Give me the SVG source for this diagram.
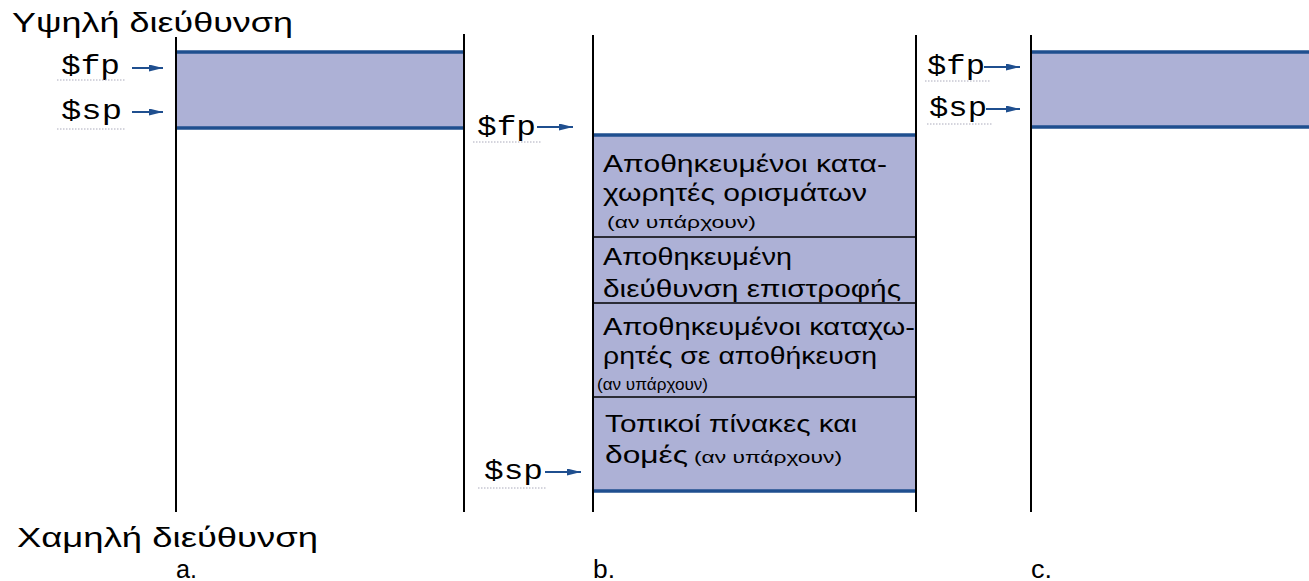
<svg xmlns="http://www.w3.org/2000/svg" width="1309" height="581" viewBox="0 0 1309 581">
<style>
.t{font-family:"Liberation Sans",Arial,sans-serif;fill:#000}
.m{font-family:"Liberation Mono","Courier New",monospace;font-size:27px;fill:#000}
.v{stroke:#000;stroke-width:2}
.blk{fill:#adb1d6}
.edge{stroke:#1f4f8f;stroke-width:3.5}
.sep{stroke:#000;stroke-width:1.5}
.arr{stroke:#1f4f8f;stroke-width:2;marker-end:url(#ah)}
.dot{stroke:#aab;stroke-width:1;stroke-dasharray:1.5 1.5}
.box{font-family:"Liberation Sans",Arial,sans-serif;font-size:24px;fill:#000}
.sm{font-size:17px}
</style>
<defs>
<marker id="ah" viewBox="0 0 12 6" refX="12" refY="3" markerWidth="7" markerHeight="3.5" orient="auto" markerUnits="strokeWidth">
<path d="M0,0 L12,3 L0,6 Z" fill="#1f4f8f"/>
</marker>
</defs>
<rect width="1309" height="581" fill="#fff"/>
<text class="t" x="12" y="32" font-size="28" textLength="281" lengthAdjust="spacingAndGlyphs">Υψηλή διεύθυνση</text>
<text class="t" x="17" y="547" font-size="27" textLength="301" lengthAdjust="spacingAndGlyphs">Χαμηλή διεύθυνση</text>
<text class="t" x="176" y="578" font-size="25" textLength="21" lengthAdjust="spacingAndGlyphs">a.</text>
<text class="t" x="593" y="578" font-size="25" textLength="22" lengthAdjust="spacingAndGlyphs">b.</text>
<text class="t" x="1031" y="578" font-size="25" textLength="21" lengthAdjust="spacingAndGlyphs">c.</text>

<g id="frame-a">
<rect class="blk" x="176" y="52" width="288" height="76"/>
<line class="edge" x1="176" y1="52" x2="464" y2="52"/>
<line class="edge" x1="176" y1="128" x2="464" y2="128"/>
<line class="v" x1="176" y1="37" x2="176" y2="512"/>
<line class="v" x1="464" y1="34" x2="464" y2="512"/>
</g>

<g id="frame-b">
<rect class="blk" x="593" y="135" width="323" height="356"/>
<line class="sep" x1="593" y1="237" x2="916" y2="237"/>
<line class="sep" x1="593" y1="303" x2="916" y2="303"/>
<line class="sep" x1="593" y1="397" x2="916" y2="397"/>
<line class="edge" x1="593" y1="135" x2="916" y2="135"/>
<line class="edge" x1="593" y1="491" x2="916" y2="491"/>
<line class="v" x1="593" y1="35" x2="593" y2="512"/>
<line class="v" x1="916" y1="35" x2="916" y2="512"/>
<text class="box" x="603" y="172" textLength="284" lengthAdjust="spacingAndGlyphs">Αποθηκευμένοι κατα-</text>
<text class="box" x="603" y="201" textLength="264" lengthAdjust="spacingAndGlyphs">χωρητές ορισμάτων</text>
<text class="box sm" x="607" y="228" textLength="149" lengthAdjust="spacingAndGlyphs">(αν υπάρχουν)</text>
<text class="box" x="603" y="265" textLength="189" lengthAdjust="spacingAndGlyphs">Αποθηκευμένη</text>
<text class="box" x="603" y="297" textLength="298" lengthAdjust="spacingAndGlyphs">διεύθυνση επιστροφής</text>
<text class="box" x="603" y="335" textLength="312" lengthAdjust="spacingAndGlyphs">Αποθηκευμένοι καταχω-</text>
<text class="box" x="603" y="364" textLength="274" lengthAdjust="spacingAndGlyphs">ρητές σε αποθήκευση</text>
<text class="box sm" x="597" y="390" textLength="111" lengthAdjust="spacingAndGlyphs">(αν υπάρχουν)</text>
<text class="box" x="605" y="432" textLength="252" lengthAdjust="spacingAndGlyphs">Τοπικοί πίνακες και</text>
<text class="box" x="605" y="463" textLength="83" lengthAdjust="spacingAndGlyphs">δομές</text>
<text class="box sm" x="694" y="463" textLength="148" lengthAdjust="spacingAndGlyphs">(αν υπάρχουν)</text>
</g>

<g id="frame-c">
<rect class="blk" x="1031" y="52" width="278" height="75"/>
<line class="edge" x1="1031" y1="52" x2="1309" y2="52"/>
<line class="edge" x1="1031" y1="127" x2="1309" y2="127"/>
<line class="v" x1="1031" y1="35" x2="1031" y2="512"/>
</g>

<g id="pointers">
<text class="m" x="61" y="74" textLength="59" lengthAdjust="spacingAndGlyphs">$fp</text>
<line class="dot" x1="57" y1="80" x2="125" y2="80"/>
<line class="arr" x1="132" y1="68" x2="163" y2="68"/>
<text class="m" x="61" y="119" textLength="61" lengthAdjust="spacingAndGlyphs">$sp</text>
<line class="dot" x1="57" y1="129" x2="125" y2="129"/>
<line class="arr" x1="132" y1="112" x2="163" y2="112"/>

<text class="m" x="477" y="135" textLength="59" lengthAdjust="spacingAndGlyphs">$fp</text>
<line class="dot" x1="473" y1="142" x2="542" y2="142"/>
<line class="arr" x1="537" y1="127" x2="573" y2="127"/>
<text class="m" x="484" y="479" textLength="59" lengthAdjust="spacingAndGlyphs">$sp</text>
<line class="dot" x1="478" y1="488" x2="547" y2="488"/>
<line class="arr" x1="545" y1="472" x2="581" y2="472"/>

<text class="m" x="927" y="74" textLength="58" lengthAdjust="spacingAndGlyphs">$fp</text>
<line class="dot" x1="925" y1="81" x2="991" y2="81"/>
<line class="arr" x1="984" y1="67" x2="1020" y2="67"/>
<text class="m" x="929" y="116" textLength="58" lengthAdjust="spacingAndGlyphs">$sp</text>
<line class="dot" x1="927" y1="124" x2="993" y2="124"/>
<line class="arr" x1="986" y1="109" x2="1020" y2="109"/>
</g>
</svg>
